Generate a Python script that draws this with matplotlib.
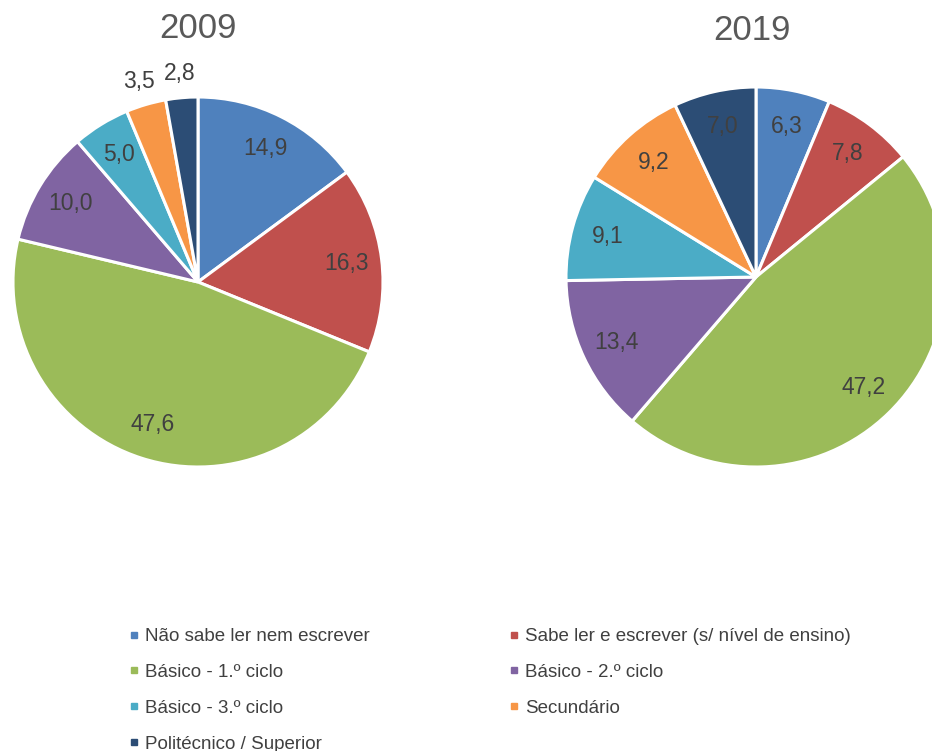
import matplotlib
matplotlib.use("Agg")
import matplotlib.pyplot as plt
from matplotlib.lines import Line2D
import numpy as np

plt.rcParams['font.family'] = ['Liberation Sans', 'DejaVu Sans']

categories = ["Não sabe ler nem escrever",
              "Sabe ler e escrever (s/ nível de ensino)",
              "Básico - 1.º ciclo",
              "Básico - 2.º ciclo",
              "Básico - 3.º ciclo",
              "Secundário",
              "Politécnico / Superior"]
years = ["2009", "2019"]
values_2009 = [14.9, 16.3, 47.6, 10.0, 5.0, 3.5, 2.8]
values_2019 = [6.3, 7.8, 47.2, 13.4, 9.1, 9.2, 7.0]

colors = ["#4F81BD", "#C0504D", "#9BBB59", "#8064A2", "#4BACC6", "#F79646", "#2C4D75"]

W, H = 932, 751
fig = plt.figure(figsize=(W / 100, H / 100), dpi=100, facecolor='white')

def pie_axes(cx, cy, r):
    # axes in pixel terms, data limits +-1.05
    half = 1.05 * r
    return fig.add_axes([(cx - half) / W, (H - cy - half) / H, 2 * half / W, 2 * half / H])

def draw_pie(ax, vals, title, title_xy):
    wedges, _ = ax.pie(vals, colors=colors, startangle=90, counterclock=False,
                       wedgeprops=dict(edgecolor='white', linewidth=2.2))
    ax.set_xlim(-1.05, 1.05)
    ax.set_ylim(-1.05, 1.05)
    ax.set_aspect('equal')
    ax.axis('off')
    for w, v in zip(wedges, vals):
        mid = np.deg2rad((w.theta1 + w.theta2) / 2)
        rr = 1.13 if v < 4 else 0.81
        ax.text(rr * np.cos(mid), rr * np.sin(mid), f"{v:.1f}".replace('.', ','),
                ha='center', va='center', fontsize=16.5, color='#404040', clip_on=False)
    fig.text(title_xy[0] / W, 1 - title_xy[1] / H, title, ha='center', va='center',
             fontsize=25, color='#595959')

ax1 = pie_axes(198, 282, 185)
draw_pie(ax1, values_2009, years[0], (198, 28))
ax2 = pie_axes(756, 277, 190)
draw_pie(ax2, values_2019, years[1], (752, 30))

handles = [Line2D([], [], marker='s', linestyle='none', markersize=5,
                  markerfacecolor=c, markeredgecolor=c) for c in colors]
order = [0, 2, 4, 6, 1, 3, 5]
fig.legend([handles[i] for i in order], [categories[i] for i in order],
           ncol=2, loc='upper left', bbox_to_anchor=(128 / W, 1 - 628 / H),
           frameon=False, fontsize=13.5, handlelength=0.6, handletextpad=0.3,
           columnspacing=7.4, labelspacing=1.0, borderpad=0, borderaxespad=0,
           labelcolor='#404040')

fig.savefig("out.png", dpi=100, facecolor='white')
